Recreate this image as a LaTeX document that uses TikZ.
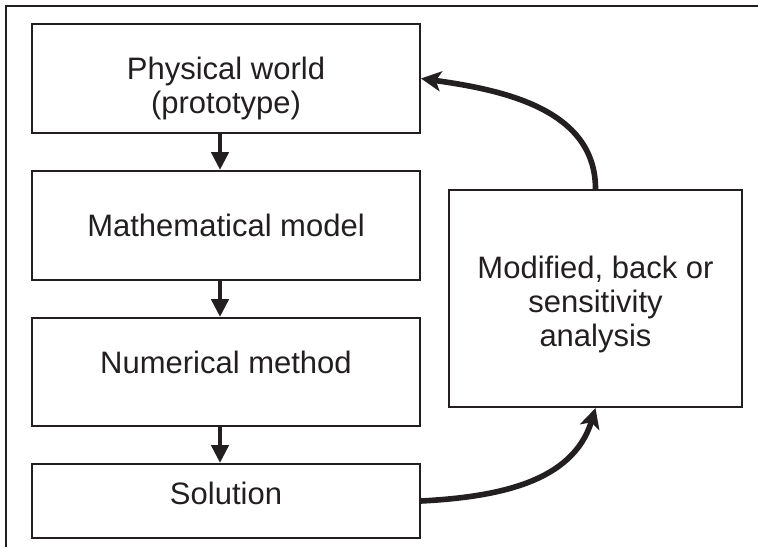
\documentclass[tikz,border=0pt]{standalone}
\usepackage{fontspec}
\setmainfont{Liberation Sans}
\usetikzlibrary{positioning,arrows.meta}
\definecolor{ink}{RGB}{35,31,32}
\begin{document}
\begin{tikzpicture}[x=0.5pt,y=0.5pt,
      font=\fontsize{15.5}{17}\selectfont,
      box/.style={draw=ink,text=ink,line width=1pt,inner sep=0pt,
        minimum width=194pt,align=center},
      flow/.style={draw=ink,line width=2.3pt,-{Triangle[length=9pt,width=8.5pt]}},
      feedback/.style={draw=ink,line width=2.8pt,
        -{Stealth[length=10pt,width=10pt,inset=2.5pt]}}
    ]
    \useasboundingbox (0,0) rectangle (758,547);
    \draw[ink,line width=1pt] (6,0) -- (6,541) -- (758,541);
    \node[box,minimum height=54.5pt] (world) at (226,468.5)
      {\rule{0pt}{21pt}Physical world\\(prototype)};
    \node[box,minimum height=54.5pt,below=18pt of world] (model) {Mathematical model};
    \node[box,minimum height=54pt,text depth=10pt,below=18pt of model] (method) {Numerical method};
    \node[box,minimum height=37pt,text depth=8pt,below=18pt of method] (solution) {Solution};
    \node[box,minimum width=146.5pt,minimum height=108.5pt,
      below right=9.5pt and 13.5pt of model.north east] (analysis)
      {\rule{0pt}{17pt}Modified, back or\\sensitivity\\analysis};
    \draw[flow] ([xshift=-3pt]world.south) -- ([xshift=-3pt]model.north);
    \draw[flow] ([xshift=-3pt]model.south) -- ([xshift=-3pt]method.north);
    \draw[flow] ([xshift=-3pt]method.south) -- ([xshift=-3pt]solution.north);
    \draw[feedback] (solution.east) to[out=3,in=-107] (analysis.south);
    \draw[feedback] (analysis.north) to[out=90,in=-8] (world.east);
  \end{tikzpicture}
\end{document}
